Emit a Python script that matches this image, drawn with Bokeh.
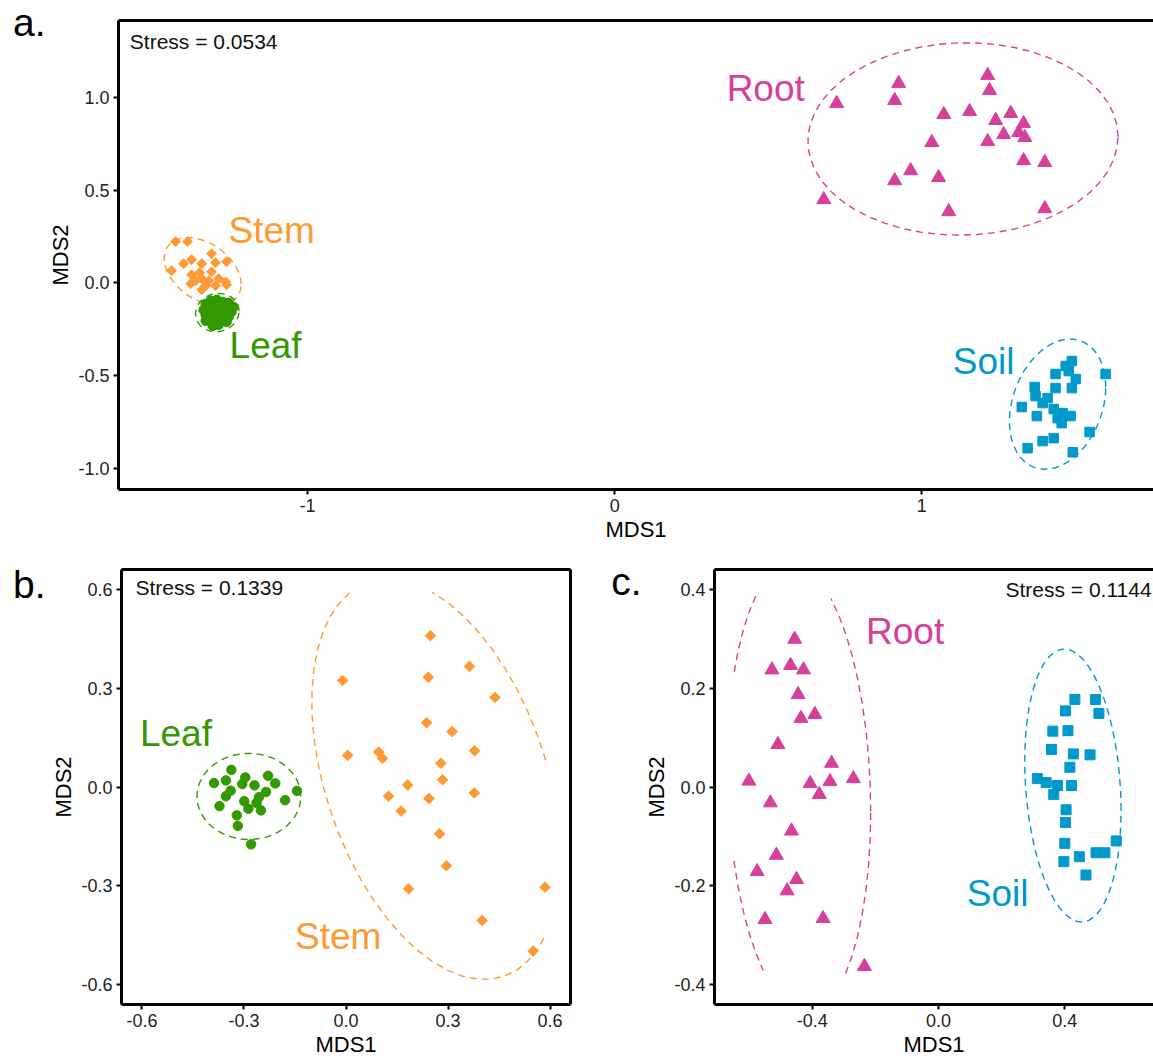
import numpy as np
from bokeh.plotting import figure
from bokeh.layouts import column, row
from bokeh.models import (Label, LinearAxis, FixedTicker, PrintfTickFormatter,
                          CustomJSTickFormatter, Range1d, ColumnDataSource)
from bokeh.core.properties import value
from bokeh.embed import file_html
from bokeh.resources import INLINE

FONT = "Liberation Sans"
C_ROOT = "#D6409A"
C_STEM = "#FF9933"
C_LEAF = "#339900"
C_SOIL = "#0099CC"

# ---------------- Panel a data ----------------
a_root_x = [0.723, 0.925, 0.912, 0.681, 1.072, 1.156, 1.215, 1.221, 1.241, 1.290, 1.332, 1.267,
            1.316, 1.336, 1.215, 1.033, 1.332, 1.401, 0.964, 0.912, 1.055, 1.088, 1.401]
a_root_y = [0.968, 1.076, 0.984, 0.449, 0.908, 0.924, 1.119, 1.038, 0.876, 0.914, 0.859, 0.800,
            0.811, 0.784, 0.762, 0.757, 0.659, 0.649, 0.605, 0.551, 0.568, 0.384, 0.400]
a_soil_x = [1.489, 1.469, 1.479, 1.436, 1.502, 1.489, 1.599, 1.368, 1.436, 1.410, 1.394, 1.326,
            1.375, 1.430, 1.443, 1.485, 1.459, 1.456, 1.430, 1.394, 1.345, 1.547, 1.492, 1.371]
a_soil_y = [-0.422, -0.449, -0.476, -0.492, -0.519, -0.568, -0.492, -0.562, -0.568, -0.622, -0.649, -0.670,
            -0.719, -0.681, -0.730, -0.719, -0.703, -0.757, -0.838, -0.854, -0.892, -0.805, -0.914, -0.611]
a_stem_x = [-1.430, -1.391, -1.313, -1.264, -1.404, -1.378, -1.345, -1.300, -1.443, -1.378, -1.352,
            -1.313, -1.345, -1.322, -1.290, -1.365, -1.267, -1.332, -1.300, -1.381, -1.345, -1.264]
a_stem_y = [0.222, 0.222, 0.157, 0.114, 0.103, 0.124, 0.103, 0.108, 0.065, 0.043, 0.054,
            0.059, 0.022, 0.011, 0.022, 0.011, 0.005, -0.016, -0.016, -0.005, -0.038, -0.011]
a_leaf_x = [-1.332, -1.316, -1.296, -1.277, -1.257, -1.241, -1.339, -1.322, -1.306, -1.287, -1.267, -1.248,
            -1.332, -1.313, -1.293, -1.277, -1.257, -1.322, -1.303, -1.283, -1.264, -1.309, -1.290, -1.332]
a_leaf_y = [-0.114, -0.097, -0.092, -0.103, -0.108, -0.130, -0.146, -0.141, -0.130, -0.135, -0.146, -0.157,
            -0.173, -0.168, -0.162, -0.178, -0.184, -0.200, -0.205, -0.205, -0.211, -0.232, -0.227, -0.205]
a_lab_text = ["Root", "Stem", "Leaf", "Soil"]
a_lab_x = [0.492, -1.117, -1.137, 1.202]
a_lab_y = [1.049, 0.284, -0.338, -0.427]
a_lab_color = [C_ROOT, C_STEM, C_LEAF, C_SOIL]
a_stress = "Stress = 0.0534"
a_xticks = [-1, 0, 1]
a_yticks = [-1.0, -0.5, 0.0, 0.5, 1.0]

# ---------------- Panel b data ----------------
b_leaf_x = [-0.388, -0.353, -0.337, -0.339, -0.353, -0.372, -0.305, -0.296, -0.269, -0.299, -0.287,
            -0.321, -0.318, -0.256, -0.263, -0.235, -0.250, -0.229, -0.208, -0.179, -0.144, -0.279]
b_leaf_y = [0.012, 0.020, 0.052, -0.011, -0.028, -0.058, 0.009, 0.029, 0.005, -0.043, -0.066,
            -0.086, -0.118, -0.031, -0.048, -0.015, -0.071, 0.034, 0.011, -0.040, -0.012, -0.174]
b_stem_x = [-0.010, 0.005, 0.096, 0.107, 0.181, 0.125, 0.162, 0.184, 0.248, 0.242, 0.237, 0.244,
            0.275, 0.279, 0.284, 0.295, 0.312, 0.363, 0.378, 0.377, 0.438, 0.400, 0.585, 0.550]
b_stem_y = [0.323, 0.096, 0.106, 0.087, 0.006, -0.028, -0.073, -0.309, 0.459, 0.333, 0.195, -0.035,
            -0.142, 0.072, 0.022, -0.239, 0.168, 0.366, 0.110, -0.018, 0.272, -0.405, -0.304, -0.498]
b_lab_text = ["Leaf", "Stem"]
b_lab_x = [-0.500, -0.023]
b_lab_y = [0.163, -0.455]
b_lab_color = [C_LEAF, C_STEM]
b_stress = "Stress = 0.1339"
b_ticks = [-0.6, -0.3, 0.0, 0.3, 0.6]

# ---------------- Panel c data ----------------
c_root_x = [-0.456, -0.528, -0.469, -0.428, -0.445, -0.436, -0.392, -0.509, -0.601, -0.533, -0.407, -0.378,
            -0.344, -0.339, -0.270, -0.466, -0.514, -0.575, -0.450, -0.480, -0.550, -0.366, -0.235]
c_root_y = [0.299, 0.237, 0.246, 0.237, 0.187, 0.139, 0.147, 0.086, 0.012, -0.032, 0.007, -0.015,
            0.011, 0.048, 0.017, -0.089, -0.138, -0.171, -0.187, -0.210, -0.268, -0.266, -0.363]
c_soil_x = [0.432, 0.497, 0.402, 0.508, 0.362, 0.410, 0.358, 0.427, 0.480, 0.416, 0.313, 0.341,
            0.377, 0.365, 0.421, 0.404, 0.402, 0.400, 0.397, 0.446, 0.499, 0.527, 0.563, 0.467]
c_soil_y = [0.177, 0.177, 0.154, 0.149, 0.113, 0.114, 0.076, 0.067, 0.065, 0.040, 0.017, 0.009,
            0.003, -0.015, 0.003, -0.046, -0.072, -0.114, -0.151, -0.141, -0.133, -0.133, -0.109, -0.178]
c_lab_text = ["Root", "Soil"]
c_lab_x = [-0.106, 0.187]
c_lab_y = [0.314, -0.216]
c_lab_color = [C_ROOT, C_SOIL]
c_stress = "Stress = 0.1144"
c_xticks = [-0.4, 0.0, 0.4]
c_yticks = [-0.4, -0.2, 0.0, 0.2, 0.4]


def ellipse(x, y, lim_x, lim_y, conf=0.95, segments=51):
    """Confidence ellipse of the points (covariance, chi-square 2 df scaling);
    path points outside the scale limits are dropped, leaving gaps."""
    xy = np.column_stack([np.asarray(x, float), np.asarray(y, float)])
    center = xy.mean(axis=0)
    cov = np.cov(xy.T)
    radius = np.sqrt(-2.0 * np.log(1.0 - conf))  # sqrt(qchisq(conf, 2))
    chol = np.linalg.cholesky(cov).T
    t = np.linspace(0, 2 * np.pi, segments + 1)
    unit = np.column_stack([np.cos(t), np.sin(t)])
    pts = center + radius * unit @ chol
    ex, ey = pts[:, 0].copy(), pts[:, 1].copy()
    bad = (ex < lim_x[0]) | (ex > lim_x[1]) | (ey < lim_y[0]) | (ey > lim_y[1])
    ex[bad] = np.nan
    ey[bad] = np.nan
    return ex, ey


def base_fig(width, height, xr, yr, mb_left, mb_right, mb_top, mb_bottom):
    p = figure(width=width, height=height, x_range=Range1d(*xr), y_range=Range1d(*yr),
               output_backend="svg", toolbar_location=None,
               min_border_left=mb_left, min_border_right=mb_right,
               min_border_top=mb_top, min_border_bottom=mb_bottom,
               x_axis_label="MDS1", y_axis_label="MDS2")
    p.outline_line_color = None
    p.xgrid.visible = False
    p.ygrid.visible = False
    p.background_fill_color = "white"
    p.border_fill_color = "white"
    return p


def style_axes(p, xticks, yticks, xfmt, yfmt, right=False):
    bx = p.below[0]
    ly = p.left[0]
    bx.ticker = FixedTicker(ticks=xticks)
    ly.ticker = FixedTicker(ticks=yticks)
    bx.formatter = PrintfTickFormatter(format=xfmt)
    ly.formatter = PrintfTickFormatter(format=yfmt)
    for ax in (bx, ly):
        ax.axis_line_width = 3
        ax.axis_line_color = "black"
        ax.major_tick_line_width = 2
        ax.major_tick_line_color = "black"
        ax.major_tick_out = 5
        ax.major_tick_in = 0
        ax.minor_tick_line_color = None
        ax.major_label_text_font = FONT
        ax.major_label_text_font_size = "18px"
        ax.major_label_text_color = "#222222"
        ax.major_label_standoff = 4
        ax.axis_label_text_font = FONT
        ax.axis_label_text_font_size = "22px"
        ax.axis_label_text_font_style = "normal"
        ax.axis_label_text_color = "black"
        ax.axis_label_standoff = 2
    # plain border lines (no ticks, no labels) on the top (and right for panel b)
    sides = ["above"] + (["right"] if right else [])
    for side in sides:
        ax = LinearAxis(ticker=FixedTicker(ticks=[]),
                        axis_line_width=3, axis_line_color="black",
                        major_tick_line_color=None, minor_tick_line_color=None,
                        major_tick_out=0, minor_tick_out=0, major_tick_in=0, minor_tick_in=0,
                        major_label_standoff=0, axis_label=None)
        p.add_layout(ax, side)


def add_letter(p, letter, ypos, standoff):
    """Panel letter drawn as the only label of an extra, otherwise invisible, left axis."""
    ax = LinearAxis(ticker=FixedTicker(ticks=[ypos]),
                    formatter=CustomJSTickFormatter(code="return '%s';" % letter),
                    axis_line_color=None, major_tick_line_color=None, minor_tick_line_color=None,
                    major_tick_out=0, major_tick_in=0, minor_tick_out=0, minor_tick_in=0,
                    major_label_standoff=standoff, major_label_text_font=FONT,
                    major_label_text_font_size="39px", major_label_text_color="black",
                    axis_label=None)
    p.add_layout(ax, "left")


def add_group_labels(p, texts, xs, ys, colors):
    src = ColumnDataSource(dict(x=xs, y=ys, text=texts, color=colors))
    p.text(x="x", y="y", text="text", text_color="color", source=src,
           text_font=value(FONT), text_font_size="37px",
           text_align="center", text_baseline="middle")


def add_stress(p, stress, sx, sy, salign):
    p.add_layout(Label(x=sx, y=sy, text=stress, text_font=FONT, text_font_size="21px",
                       text_color="#111111", text_align=salign, text_baseline="middle"))


DASH = "7 5"
LW = 1.4

# ---------------- Panel a ----------------
a_xlim, a_ylim = (-1.616, 1.755), (-1.115, 1.415)
pa = base_fig(1153, 548, (-1.616, 1.755), (-1.115, 1.415), 118, 0, 20, 59)
for xs, ys, col in ((a_root_x, a_root_y, C_ROOT), (a_stem_x, a_stem_y, C_STEM),
                    (a_leaf_x, a_leaf_y, C_LEAF), (a_soil_x, a_soil_y, C_SOIL)):
    ex, ey = ellipse(xs, ys, a_xlim, a_ylim)
    pa.line(ex, ey, line_color=col, line_width=LW, line_dash=DASH)
pa.scatter(a_stem_x, a_stem_y, marker="square", angle=np.pi / 4, size=7, color=C_STEM)
pa.scatter(a_leaf_x, a_leaf_y, marker="circle", size=9.5, color=C_LEAF)
pa.scatter(a_root_x, a_root_y, marker="triangle", size=14, color=C_ROOT)
pa.scatter(a_soil_x, a_soil_y, marker="square", size=9.5, color=C_SOIL)
add_group_labels(pa, a_lab_text, a_lab_x, a_lab_y, a_lab_color)
add_stress(pa, a_stress, -1.579, 1.303, "left")
style_axes(pa, a_xticks, a_yticks, "%.0f", "%.1f")
add_letter(pa, "a.", 1.41, 0)

# ---------------- Panel b ----------------
b_lim = (-0.6, 0.6)
pb = base_fig(600, 514, (-0.66, 0.66), (-0.66, 0.66), 121, 30, 17, 58)
for xs, ys, col in ((b_leaf_x, b_leaf_y, C_LEAF), (b_stem_x, b_stem_y, C_STEM)):
    ex, ey = ellipse(xs, ys, b_lim, b_lim)
    pb.line(ex, ey, line_color=col, line_width=LW, line_dash=DASH)
pb.scatter(b_leaf_x, b_leaf_y, marker="circle", size=9.5, color=C_LEAF)
pb.scatter(b_stem_x, b_stem_y, marker="square", angle=np.pi / 4, size=7.5, color=C_STEM)
add_group_labels(pb, b_lab_text, b_lab_x, b_lab_y, b_lab_color)
add_stress(pb, b_stress, -0.619, 0.605, "left")
style_axes(pb, b_ticks, b_ticks, "%.1f", "%.1f", right=True)
add_letter(pb, "b.", 0.616, 3)

# ---------------- Panel c ----------------
c_xlim, c_ylim = (-0.65, 0.65), (-0.4, 0.4)
pc = base_fig(553, 514, (-0.710, 0.681), (-0.44, 0.44), 114, 0, 21, 57)
for xs, ys, col in ((c_root_x, c_root_y, C_ROOT), (c_soil_x, c_soil_y, C_SOIL)):
    ex, ey = ellipse(xs, ys, c_xlim, c_ylim)
    pc.line(ex, ey, line_color=col, line_width=LW, line_dash=DASH)
pc.scatter(c_root_x, c_root_y, marker="triangle", size=14, color=C_ROOT)
pc.scatter(c_soil_x, c_soil_y, marker="square", size=10, color=C_SOIL)
add_group_labels(pc, c_lab_text, c_lab_x, c_lab_y, c_lab_color)
add_stress(pc, c_stress, 0.675, 0.400, "right")
style_axes(pc, c_xticks, c_yticks, "%.1f", "%.1f")
add_letter(pc, "c.", 0.4158, 0)

layout = column(pa, row(pb, pc))
open("out.html", "w").write(file_html(layout, INLINE))
